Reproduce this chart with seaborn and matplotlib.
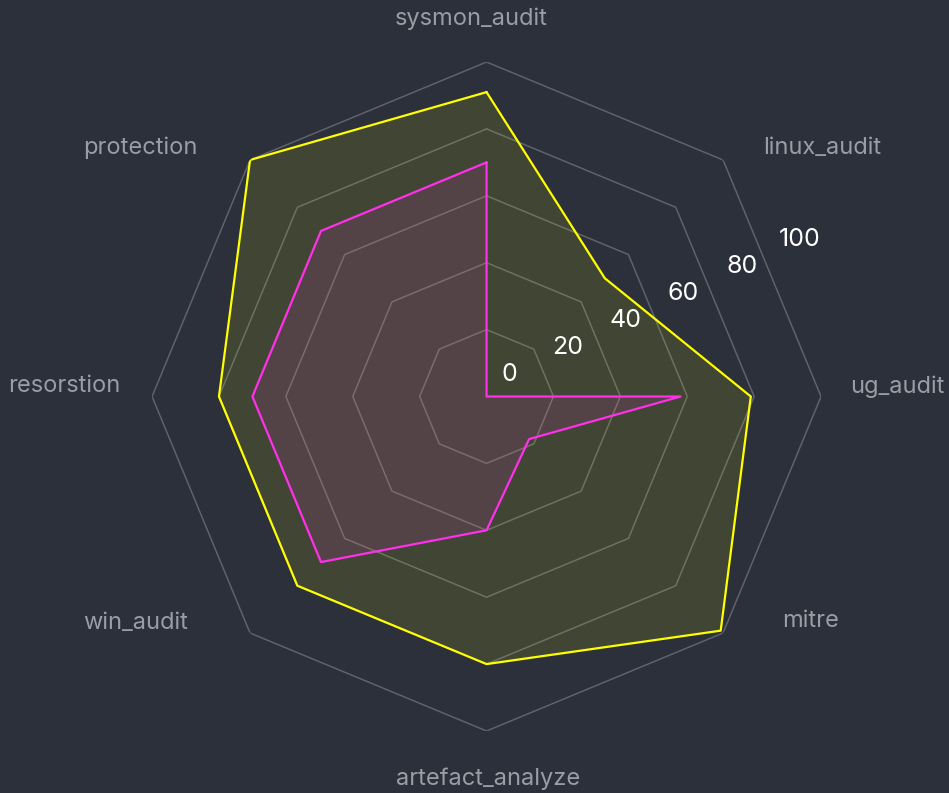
import numpy as np
import pandas as pd
import seaborn as sns
import matplotlib.pyplot as plt

# radar categories, clockwise from the top
categories = ["sysmon_audit", "linux_audit", "ug_audit", "mitre",
              "artefact_analyze", "win_audit", "resorstion", "protection"]

# the two series
yellow_scores = [91, 50, 79, 99, 80, 80, 80, 100]
magenta_scores = [70, 0, 58, 18, 40, 70, 70, 70]

ring_levels = [20, 40, 60, 80, 100]
tick_values = [0, 20, 40, 60, 80, 100]
tick_labels = ["0", "20", "40", "60", "80", "100"]

BG = "#2b303a"
GRID = "#5d626c"
LABEL = "#999da5"

# where each category label sits relative to its outer vertex (pixels)
label_offsets = {
    "sysmon_audit": (-15, 43, "center"),
    "linux_audit": (40, 12, "left"),
    "ug_audit": (29, 10, "left"),
    "mitre": (59, 12, "left"),
    "artefact_analyze": (2, -48, "center"),
    "win_audit": (-62, 10, "right"),
    "resorstion": (-32, 11, "right"),
    "protection": (-53, 12, "right"),
}


def build_frame():
    n = len(categories)
    angles = np.arange(n) * 2 * np.pi / n
    rows = []
    for name, scores in [("yellow", yellow_scores), ("magenta", magenta_scores)]:
        # repeat the first point to close the polygon
        for i in list(range(n)) + [0]:
            rows.append({"series": name, "angle": angles[i], "score": scores[i]})
    return pd.DataFrame(rows), angles


def plot_radar(df, angles):
    sns.set_theme(style="dark")
    plt.rcParams["font.family"] = ["Inter", "DejaVu Sans"]

    fig = plt.figure(figsize=(9.49, 7.93), dpi=100, facecolor=BG)
    ax = fig.add_axes([0.1602, 0.0782, 0.705, 0.8436], projection="polar")
    ax.set_facecolor(BG)
    ax.set_theta_zero_location("N")
    ax.set_theta_direction(-1)
    ax.set_ylim(0, 100)

    # polygon grid instead of circles
    ax.grid(False)
    ax.spines["polar"].set_visible(False)
    closed = np.append(angles, angles[0])
    for lvl in ring_levels:
        ax.plot(closed, [lvl] * len(closed), color=GRID, lw=1.1, zorder=1)

    palette = {"yellow": "#ffff00", "magenta": "#ff30ea"}
    sns.lineplot(data=df, x="angle", y="score", hue="series", palette=palette,
                 sort=False, estimator=None, lw=1.6, legend=False, ax=ax, zorder=3)
    for name, color in palette.items():
        part = df[df["series"] == name]
        ax.fill(part["angle"], part["score"], color=color, alpha=0.1, zorder=2, lw=0)

    # radial tick labels, drawn by hand along a slanted line
    ax.set_yticks([])
    ax.set_xticks([])
    tick_theta = np.deg2rad(65)
    for val, lab in zip(tick_values, tick_labels):
        ax.annotate(lab, xy=(tick_theta, val * 0.957), xytext=(23, 22),
                    textcoords="offset pixels", ha="center", va="center",
                    color="white", fontsize=18)

    # category labels outside the ring
    for ang, cat in zip(angles, categories):
        dx, dy, ha = label_offsets[cat]
        ax.annotate(cat, xy=(ang, 100), xytext=(dx, dy), textcoords="offset pixels",
                    ha=ha, va="center", color=LABEL, fontsize=17)

    ax.set_xlabel("")
    ax.set_ylabel("")
    fig.savefig("out.png", dpi=100, facecolor=BG)


if __name__ == "__main__":
    df, angles = build_frame()
    plot_radar(df, angles)
